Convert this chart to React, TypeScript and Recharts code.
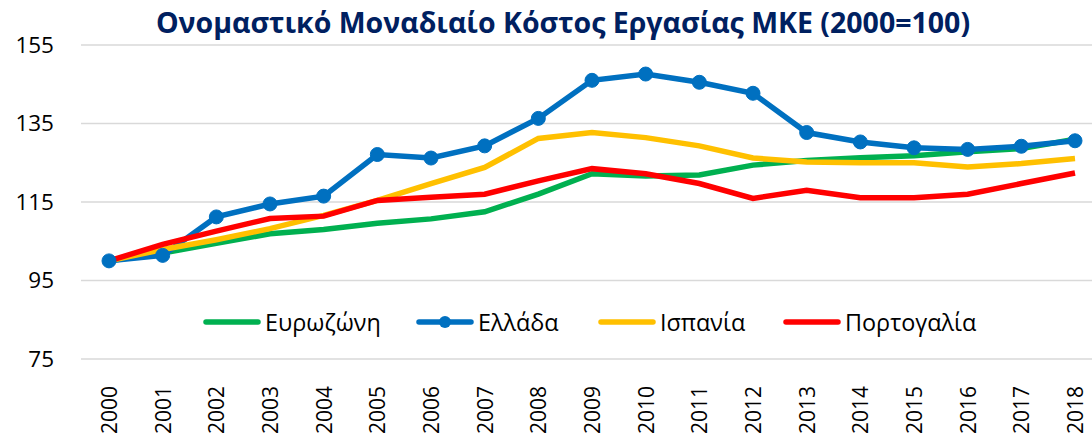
import React from 'react';
import { LineChart, Line, XAxis, YAxis, CartesianGrid } from 'recharts';

// Ονομαστικό Μοναδιαίο Κόστος Εργασίας, index 2000=100
const years = [
  '2000', '2001', '2002', '2003', '2004', '2005', '2006', '2007', '2008', '2009',
  '2010', '2011', '2012', '2013', '2014', '2015', '2016', '2017', '2018',
];
const eurozone = [100, 102.0, 104.5, 106.9, 108.0, 109.6, 110.7, 112.5, 117.0, 122.2, 121.6, 121.9, 124.4, 125.6, 126.3, 126.8, 127.8, 128.6, 131.0];
const greece = [100, 101.4, 111.2, 114.5, 116.5, 127.1, 126.2, 129.3, 136.3, 146.0, 147.6, 145.5, 142.7, 132.7, 130.3, 128.8, 128.4, 129.2, 130.6];
const spain = [100, 102.9, 105.4, 108.2, 111.6, 115.4, 119.7, 123.8, 131.2, 132.7, 131.4, 129.3, 126.2, 125.2, 125.0, 125.0, 123.9, 124.8, 126.1];
const portugal = [100, 104.2, 107.6, 110.8, 111.4, 115.4, 116.2, 117.0, 120.4, 123.5, 122.2, 119.7, 115.9, 118.0, 116.1, 116.1, 117.0, 119.7, 122.4];
const yTicks = [75, 95, 115, 135, 155];

const series = [
  { key: 'eurozone', name: 'Ευρωζώνη', color: '#00B050', dot: false },
  { key: 'greece', name: 'Ελλάδα', color: '#0070C0', dot: true },
  { key: 'spain', name: 'Ισπανία', color: '#FFC000', dot: false },
  { key: 'portugal', name: 'Πορτογαλία', color: '#FF0000', dot: false },
];

// legend item left edges (px), layout only
const legendLeft = [203, 416, 598, 783];

const data = years.map((year, i) => ({
  year,
  eurozone: eurozone[i],
  greece: greece[i],
  spain: spain[i],
  portugal: portugal[i],
}));

const FONT = '"Open Sans", sans-serif';

const YearTick = (props: any) => {
  const { x, y, payload } = props;
  return (
    <text
      transform={`translate(${x},${y + 25}) rotate(-90)`}
      textAnchor="end"
      dominantBaseline="central"
      fontSize={21}
      fontFamily={FONT}
      fill="#000"
    >
      {payload.value}
    </text>
  );
};

export default function App() {
  return (
    <div style={{ position: 'absolute', left: 0, top: 0, width: 1092, height: 437, background: '#fff', overflow: 'hidden' }}>
      <div
        style={{
          position: 'absolute', top: 2, left: 0, width: 1126, textAlign: 'center',
          fontFamily: FONT, fontWeight: 700, fontSize: 28.5, color: '#002060', lineHeight: '40px',
        }}
      >
        Ονομαστικό Μοναδιαίο Κόστος Εργασίας ΜΚΕ (2000=100)
      </div>
      <LineChart width={1092} height={437} data={data} margin={{ top: 45, right: 0, bottom: 0, left: 0 }}>
        <CartesianGrid vertical={false} stroke="#D9D9D9" strokeWidth={1.5} />
        <XAxis
          dataKey="year"
          height={78}
          padding={{ left: 28, right: 17 }}
          axisLine={false}
          tickLine={false}
          tickSize={0}
          tick={<YearTick />}
          interval={0}
        />
        <YAxis
          domain={[75, 155]}
          ticks={yTicks}
          width={81}
          axisLine={false}
          tickLine={false}
          tickSize={0}
          tickMargin={27}
          tick={{ fontSize: 22.5, fontFamily: FONT, fill: '#000' }}
        />
        {series.map((s) => (
          <Line
            key={s.key}
            dataKey={s.key}
            name={s.name}
            stroke={s.color}
            strokeWidth={5.5}
            type="linear"
            dot={s.dot ? { r: 7, fill: s.color, stroke: s.color, strokeWidth: 1 } : false}
            activeDot={false}
            isAnimationActive={false}
          />
        ))}
      </LineChart>
      {series.map((s, i) => (
        <div
          key={s.key}
          style={{
            position: 'absolute', top: 305, left: legendLeft[i], height: 34, display: 'flex', alignItems: 'center',
            fontFamily: FONT, fontSize: 23.4, color: '#000', whiteSpace: 'nowrap',
          }}
        >
          <svg width={58} height={16} style={{ marginRight: 4 }}>
            <line x1={3} y1={8} x2={55} y2={8} stroke={s.color} strokeWidth={5.5} strokeLinecap="round" />
            {s.dot && <circle cx={29} cy={8} r={6} fill={s.color} />}
          </svg>
          <span>{s.name}</span>
        </div>
      ))}
    </div>
  );
}
